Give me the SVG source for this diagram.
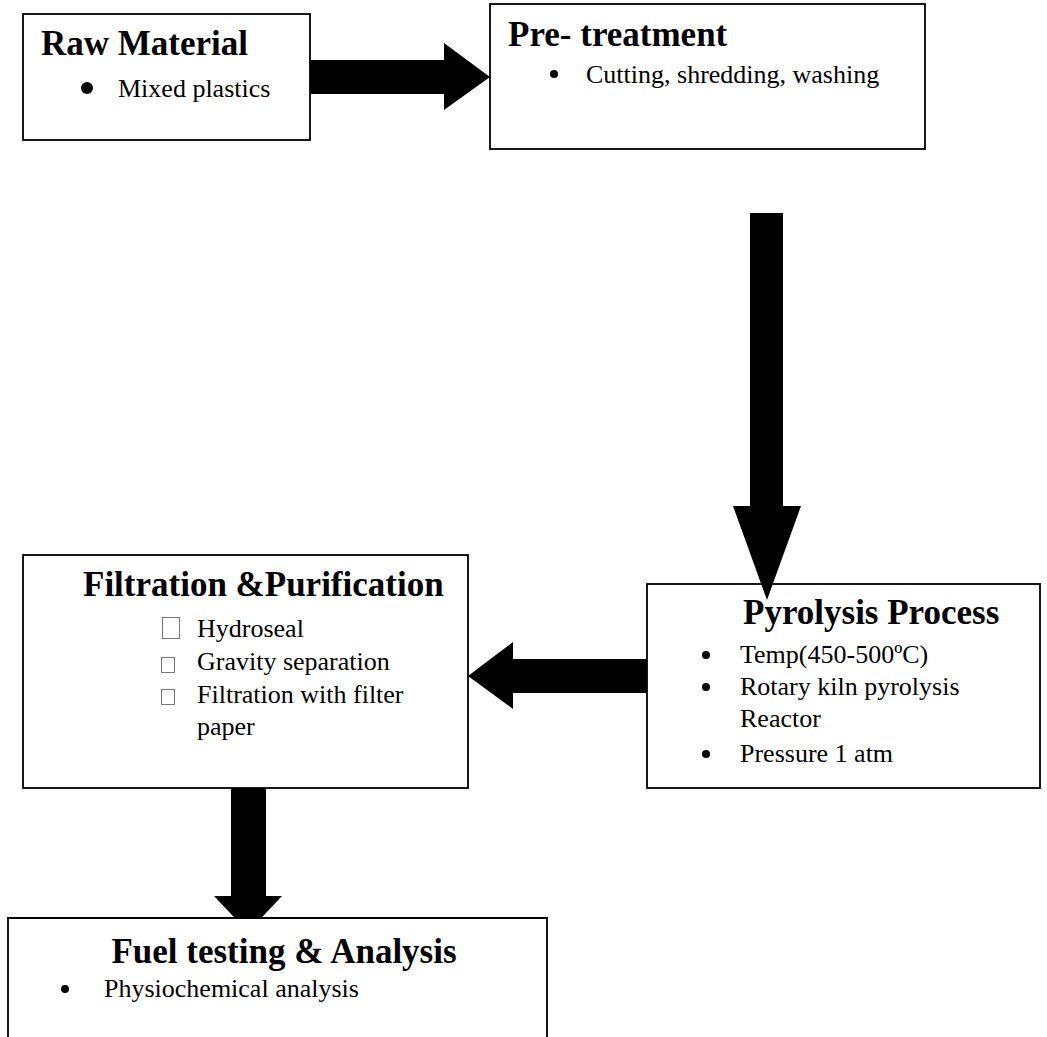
<svg xmlns="http://www.w3.org/2000/svg" width="1047" height="1037" viewBox="0 0 1047 1037">
<style>
.box{fill:#fff;stroke:#000;stroke-width:1.8}
.t{font-family:"Liberation Serif","Times New Roman",serif;font-weight:bold;font-size:35px;fill:#000}
.b{font-family:"Liberation Serif","Times New Roman",serif;font-size:26px;fill:#000}
.dot{fill:#000}
.tofu{fill:none;stroke:#777;stroke-width:1}
.arr{fill:#000}
</style>
<rect width="1047" height="1037" fill="#fff"/>
<g id="raw-material">
<rect class="box" x="23" y="14" width="287" height="126"/>
<text class="t" x="41" y="55">Raw Material</text>
<circle class="dot" cx="87" cy="88" r="6"/>
<text class="b" x="118" y="97">Mixed plastics</text>
</g>
<g id="pre-treatment">
<rect class="box" x="490" y="4" width="435" height="145"/>
<text class="t" x="508" y="46">Pre- treatment</text>
<circle class="dot" cx="554" cy="74" r="4"/>
<text class="b" x="586" y="83">Cutting, shredding, washing</text>
</g>
<g id="filtration">
<rect class="box" x="23" y="555" width="445" height="233"/>
<text class="t" x="83" y="596">Filtration &amp;Purification</text>
<rect class="tofu" x="162.5" y="617.5" width="17" height="21"/>
<rect class="tofu" x="161.5" y="657.5" width="13" height="15"/>
<rect class="tofu" x="161.5" y="689.5" width="13" height="15"/>
<text class="b" x="197" y="637">Hydroseal</text>
<text class="b" x="197" y="670">Gravity separation</text>
<text class="b" x="197" y="703">Filtration with filter</text>
<text class="b" x="197" y="735">paper</text>
</g>
<g id="pyrolysis">
<rect class="box" x="647" y="584" width="393" height="204"/>
<text class="t" x="743" y="624">Pyrolysis Process</text>
<circle class="dot" cx="706" cy="655" r="4"/>
<circle class="dot" cx="706" cy="687" r="4"/>
<circle class="dot" cx="706" cy="754" r="4"/>
<text class="b" x="740" y="663">Temp(450-500ºC)</text>
<text class="b" x="740" y="695">Rotary kiln pyrolysis</text>
<text class="b" x="740" y="727">Reactor</text>
<text class="b" x="740" y="762">Pressure 1 atm</text>
</g>
<g id="connectors">
<path class="arr" d="M310,60 H444 V43 L490,77 L444,110 V94 H310 Z"/>
<path class="arr" d="M750,213 H783 V506 H801 L767,600 L733,506 H750 Z"/>
<path class="arr" d="M647,659 H513 V642 L468,676 L513,709 V693 H647 Z"/>
<path class="arr" d="M231,788 H266 V896 H282 L248,932 L214,896 H231 Z"/>
</g>
<g id="fuel-testing">
<path class="box" d="M8,1040 V918 H547 V1040"/>
<text class="t" x="284" y="963" text-anchor="middle">Fuel testing &amp; Analysis</text>
<circle class="dot" cx="65" cy="989" r="4"/>
<text class="b" x="104" y="997">Physiochemical analysis</text>
</g>
</svg>
